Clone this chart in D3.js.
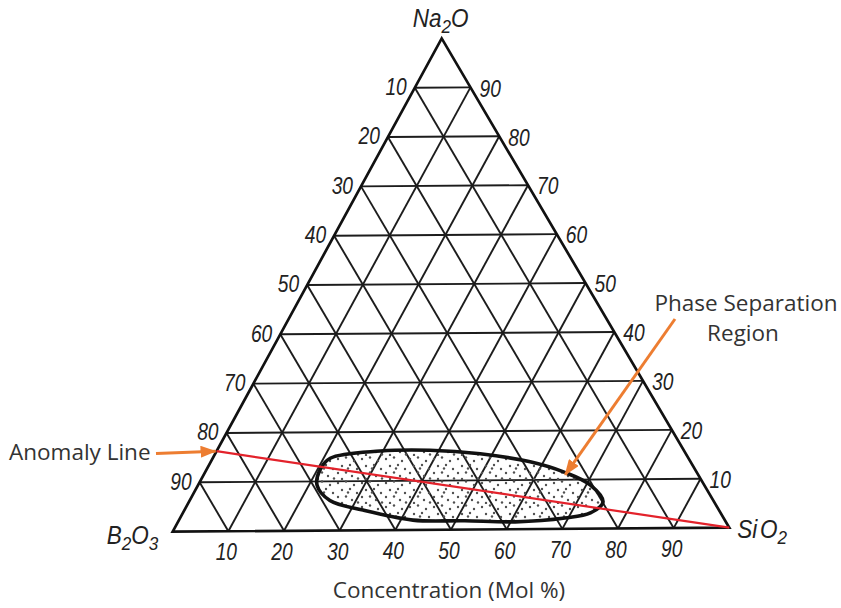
<!DOCTYPE html>
<html>
<head>
<meta charset="utf-8">
<script src="https://cdn.jsdelivr.net/npm/d3@7"></script>
<style>
  html, body { margin: 0; padding: 0; background: #fff; }
  svg { display: block; }
</style>
</head>
<body>
<svg id="chart" width="841" height="608"></svg>
<script>
// ---- Data (compositions are [SiO2, B2O3, Na2O] in mol %) ----
const components = ["SiO2", "B2O3", "Na2O"];
const gridLevels = [10, 20, 30, 40, 50, 60, 70, 80, 90];
const leftTickLabels   = ["10", "20", "30", "40", "50", "60", "70", "80", "90"]; // B2O3 along the left edge
const rightTickLabels  = ["10", "20", "30", "40", "50", "60", "70", "80", "90"]; // Na2O along the right edge
const bottomTickLabels = ["10", "20", "30", "40", "50", "60", "70", "80", "90"]; // SiO2 along the base

// Anomaly line: from the Na2O–B2O3 edge to the SiO2 corner
const anomalyLine = [[0, 83.7, 16.3], [100, 0, 0]];

// Boundary of the phase separation (immiscibility) region
const phaseRegion = [
  [21.5, 69.3, 9.2],
  [20.5, 67.2, 12.3],
  [21.2, 64.1, 14.7],
  [29.5, 54.4, 16.1],
  [38.4, 45.4, 16.2],
  [47.8, 36.8, 15.4],
  [57.6, 28.7, 13.7],
  [64.6, 23.8, 11.6],
  [70.7, 20.4, 8.9],
  [74.7, 19.9, 5.4],
  [73.5, 23.3, 3.2],
  [69.4, 28.4, 2.2],
  [60.8, 37.7, 1.5],
  [51.6, 46.6, 1.8],
  [42.2, 55.8, 2.0],
  [32.2, 63.7, 4.1],
  [25.3, 68.6, 6.1]
];

// Point the "Phase Separation Region" arrow lands on
const phaseArrowTarget = [65.2, 23.8, 11.0];

// ---- Layout ----
const corner = {
  SiO2: [729.3, 527.7],
  B2O3: [172.7, 531.6],
  Na2O: [441.7, 38.4]
};
const ORANGE = "#ED7D31";
const GRID = "#1c1c1c";

const svg = d3.select("#chart");

// Fraction scale shared by all three components
const frac = d3.scaleLinear().domain([0, 100]).range([0, 1]);

function project(c) {
  const [s, b, n] = c;
  const x = frac(s) * corner.SiO2[0] + frac(b) * corner.B2O3[0] + frac(n) * corner.Na2O[0];
  const y = frac(s) * corner.SiO2[1] + frac(b) * corner.B2O3[1] + frac(n) * corner.Na2O[1];
  return [x, y];
}

const line = d3.line();

// ---- Stipple pattern for the region ----
const defs = svg.append("defs");
const pat = defs.append("pattern")
  .attr("id", "stipple")
  .attr("patternUnits", "userSpaceOnUse")
  .attr("width", 24).attr("height", 24);
const dots = [[2,3],[10,1.5],[18,5],[6,10],[14,9],[21,13],[2,17],[10,16.5],[16,20],[22,22.5],[6,23],[12,12.5]];
pat.selectAll("circle").data(dots).join("circle")
  .attr("cx", d => d[0]).attr("cy", d => d[1]).attr("r", 1.2)
  .attr("fill", "#505050");

// Arrow head marker
defs.append("marker")
  .attr("id", "arrowhead")
  .attr("markerUnits", "userSpaceOnUse")
  .attr("viewBox", "0 0 16 12")
  .attr("refX", 15).attr("refY", 6)
  .attr("markerWidth", 16).attr("markerHeight", 12)
  .attr("orient", "auto")
  .append("path")
  .attr("d", "M0,0 L16,6 L0,12 Z")
  .attr("fill", ORANGE);

// ---- Grid ----
const gridG = svg.append("g")
  .attr("fill", "none")
  .attr("stroke", GRID)
  .attr("stroke-width", 1.9);

const gridSegments = [];
gridLevels.forEach(v => {
  gridSegments.push([[0, 100 - v, v], [100 - v, 0, v]]);      // constant Na2O
  gridSegments.push([[v, 100 - v, 0], [v, 0, 100 - v]]);      // constant SiO2
  gridSegments.push([[100 - v, v, 0], [0, v, 100 - v]]);      // constant B2O3
});
gridG.selectAll("path").data(gridSegments).join("path")
  .attr("d", d => line(d.map(project)));

// Phase separation region: stippled fill
const regionPath = line.curve(d3.curveCatmullRomClosed.alpha(0.5))(phaseRegion.map(project));
line.curve(d3.curveLinear);
svg.append("path")
  .attr("d", regionPath)
  .attr("fill", "url(#stipple)")
  .attr("stroke", "none");

// Outer triangle
svg.append("path")
  .attr("d", line([[100,0,0],[0,100,0],[0,0,100]].map(project)) + "Z")
  .attr("fill", "none")
  .attr("stroke", "#111")
  .attr("stroke-width", 2.7)
  .attr("stroke-linejoin", "miter");

// Region outline
svg.append("path")
  .attr("d", regionPath)
  .attr("fill", "none")
  .attr("stroke", "#111")
  .attr("stroke-width", 3.6);

// Anomaly line
svg.append("path")
  .attr("d", line(anomalyLine.map(project)))
  .attr("fill", "none")
  .attr("stroke", "#E3222B")
  .attr("stroke-width", 2.2);

// ---- Tick labels (italic, narrow technical lettering) ----
const tickFont = "'Liberation Sans', 'DejaVu Sans', sans-serif";
function tickText(g, x, y, txt, anchor) {
  g.append("text")
    .attr("transform", `translate(${x},${y}) scale(0.8,1)`)
    .attr("text-anchor", anchor)
    .attr("dominant-baseline", "central")
    .attr("font-family", tickFont)
    .attr("font-style", "italic")
    .attr("font-size", 24)
    .attr("fill", "#222")
    .text(txt);
}
const tickG = svg.append("g");
gridLevels.forEach((v, i) => {
  const pL = project([0, v, 100 - v]);
  tickText(tickG, pL[0] - 8, pL[1] - 1, leftTickLabels[i], "end");
  const pR = project([100 - v, 0, v]);
  tickText(tickG, pR[0] + 9, pR[1] + 1, rightTickLabels[i], "start");
  const pB = project([v, 100 - v, 0]);
  tickText(tickG, pB[0] - 2, pB[1] + 21, bottomTickLabels[i], "middle");
});

// ---- Corner labels ----
function cornerLabel(x, y, parts, anchor) {
  const t = svg.append("text")
    .attr("transform", `translate(${x},${y}) scale(0.9,1)`)
    .attr("text-anchor", anchor)
    .attr("font-family", tickFont)
    .attr("font-style", "italic")
    .attr("font-size", 25)
    .attr("fill", "#222");
  parts.forEach(p => {
    t.append("tspan")
      .attr("font-size", p.sub ? 19 : 25)
      .attr("dy", p.dy || 0)
      .attr("dx", p.dx || 0)
      .text(p.t);
  });
}
const pNa = project([0, 0, 100]);
cornerLabel(pNa[0] - 1, pNa[1] - 11, [{t: "Na"}, {t: "2", sub: true, dy: 6}, {t: "O", dy: -6}], "middle");
const pB2 = project([0, 100, 0]);
cornerLabel(pB2[0] - 66, pB2[1] + 12, [{t: "B"}, {t: "2", sub: true, dy: 6}, {t: "O", dy: -6}, {t: "3", sub: true, dy: 6}], "start");
const pSi = project([100, 0, 0]);
cornerLabel(pSi[0] + 8, pSi[1] + 10, [{t: "Si"}, {t: "O", dx: 3}, {t: "2", sub: true, dy: 6}], "start");

// ---- Annotations ----
const annoFont = "'Open Sans', Lato, sans-serif";
const annoColor = "#333";
const annoSize = 22.5;

svg.append("text")
  .attr("x", 449).attr("y", 598)
  .attr("text-anchor", "middle")
  .attr("font-family", annoFont).attr("font-size", annoSize)
  .attr("fill", annoColor)
  .text("Concentration (Mol %)");

svg.append("text")
  .attr("x", 9).attr("y", 460)
  .attr("font-family", annoFont).attr("font-size", annoSize)
  .attr("fill", annoColor)
  .text("Anomaly Line");

const psText = svg.append("text")
  .attr("text-anchor", "middle")
  .attr("font-family", annoFont).attr("font-size", annoSize)
  .attr("fill", annoColor);
psText.append("tspan").attr("x", 746).attr("y", 311).text("Phase Separation");
psText.append("tspan").attr("x", 743).attr("y", 341).text("Region");

// Arrows
const anomalyStart = project(anomalyLine[0]);
svg.append("path")
  .attr("d", line([[156, 453.5], [anomalyStart[0] - 1, anomalyStart[1]]]))
  .attr("stroke", ORANGE).attr("stroke-width", 3)
  .attr("fill", "none")
  .attr("marker-end", "url(#arrowhead)");

const phaseTip = project(phaseArrowTarget);
svg.append("path")
  .attr("d", line([[675, 319], phaseTip]))
  .attr("stroke", ORANGE).attr("stroke-width", 3)
  .attr("fill", "none")
  .attr("marker-end", "url(#arrowhead)");
</script>
</body>
</html>
